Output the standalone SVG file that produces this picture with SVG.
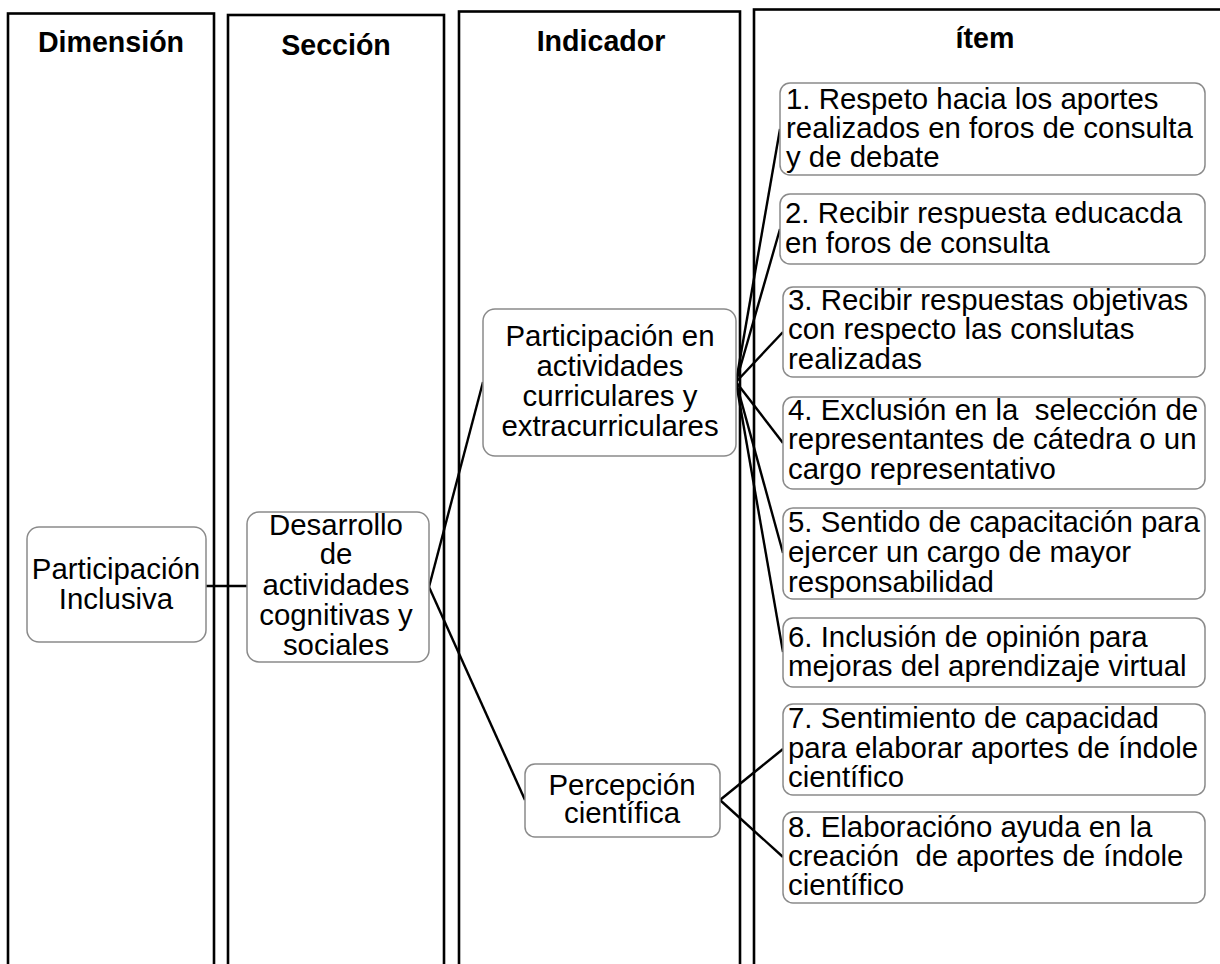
<svg xmlns="http://www.w3.org/2000/svg" width="1220" height="964" viewBox="0 0 1220 964">
<style>
.panel{fill:none;stroke:#000;stroke-width:2.6}
.hdr{font-family:"Liberation Sans",Arial,sans-serif;font-weight:bold;font-size:28.6px;text-anchor:middle;fill:#000}
.node rect{fill:#fff;stroke:#8a8a8a;stroke-width:1.5}
.node text{font-family:"Liberation Sans",Arial,sans-serif;font-size:29.4px;fill:#000;white-space:pre}
.c text{text-anchor:middle}
.conn line{stroke:#000;stroke-width:2.4}
</style>
<rect width="1220" height="964" fill="#fff"/>
<g id="panels">
<rect class="panel" x="8" y="13.5" width="206" height="970"/>
<rect class="panel" x="228" y="15" width="216" height="970"/>
<rect class="panel" x="459" y="11.5" width="281" height="970"/>
<rect class="panel" x="754" y="9.5" width="480" height="970"/>
<text class="hdr" x="111" y="52">Dimensión</text>
<text class="hdr" x="336" y="55">Sección</text>
<text class="hdr" x="601" y="51">Indicador</text>
<text class="hdr" x="985" y="48">ítem</text>
</g>
<g id="connectors" class="conn">
<line x1="206" y1="586" x2="247" y2="586"/>
<line x1="429" y1="587" x2="483" y2="382"/>
<line x1="429" y1="587" x2="525" y2="800"/>
<line x1="736" y1="382" x2="780" y2="129"/>
<line x1="736" y1="382" x2="780" y2="229"/>
<line x1="736" y1="382" x2="783" y2="332"/>
<line x1="736" y1="382" x2="783" y2="443"/>
<line x1="736" y1="382" x2="783" y2="553"/>
<line x1="736" y1="382" x2="783" y2="652"/>
<line x1="720" y1="800" x2="783" y2="749"/>
<line x1="720" y1="800" x2="783" y2="857"/>
</g>
<g id="dim" class="node c">
<rect x="27" y="527" width="179" height="115" rx="12"/>
<text x="116" y="579">Participación</text>
<text x="116" y="609">Inclusiva</text>
</g>
<g id="sec" class="node c">
<rect x="247" y="512" width="182" height="150" rx="12"/>
<text x="336" y="535">Desarrollo</text>
<text x="336" y="564">de</text>
<text x="336" y="595">actividades</text>
<text x="336" y="625">cognitivas y</text>
<text x="336" y="655">sociales</text>
</g>
<g id="ind1" class="node c">
<rect x="483" y="309" width="253" height="147" rx="12"/>
<text x="610" y="346">Participación en</text>
<text x="610" y="376">actividades</text>
<text x="610" y="406">curriculares y</text>
<text x="610" y="436">extracurriculares</text>
</g>
<g id="ind2" class="node c">
<rect x="525" y="764" width="195" height="73" rx="10"/>
<text x="622" y="795">Percepción</text>
<text x="622" y="823">científica</text>
</g>
<g id="item1" class="node">
<rect x="780" y="83" width="425" height="92" rx="10"/>
<text x="786" y="109">1. Respeto hacia los aportes</text>
<text x="786" y="138">realizados en foros de consulta</text>
<text x="786" y="167">y de debate</text>
</g>
<g id="item2" class="node">
<rect x="780" y="194" width="425" height="70" rx="10"/>
<text x="785" y="223">2. Recibir respuesta educacda</text>
<text x="785" y="253">en foros de consulta</text>
</g>
<g id="item3" class="node">
<rect x="783" y="287" width="422" height="90" rx="10"/>
<text x="788" y="310">3. Recibir respuestas objetivas</text>
<text x="788" y="339">con respecto las conslutas</text>
<text x="788" y="369">realizadas</text>
</g>
<g id="item4" class="node">
<rect x="783" y="397" width="422" height="92" rx="10"/>
<text x="788" y="420">4. Exclusión en la  selección de</text>
<text x="788" y="449">representantes de cátedra o un</text>
<text x="788" y="479">cargo representativo</text>
</g>
<g id="item5" class="node">
<rect x="783" y="508" width="422" height="91" rx="10"/>
<text x="788" y="532">5. Sentido de capacitación para</text>
<text x="788" y="562">ejercer un cargo de mayor</text>
<text x="788" y="592">responsabilidad</text>
</g>
<g id="item6" class="node">
<rect x="783" y="618" width="422" height="69" rx="10"/>
<text x="788" y="647">6. Inclusión de opinión para</text>
<text x="788" y="676">mejoras del aprendizaje virtual</text>
</g>
<g id="item7" class="node">
<rect x="783" y="704" width="422" height="91" rx="10"/>
<text x="788" y="728">7. Sentimiento de capacidad</text>
<text x="788" y="758">para elaborar aportes de índole</text>
<text x="788" y="787">científico</text>
</g>
<g id="item8" class="node">
<rect x="783" y="812" width="422" height="91" rx="10"/>
<text x="788" y="837">8. Elaboracióno ayuda en la</text>
<text x="788" y="866">creación  de aportes de índole</text>
<text x="788" y="895">científico</text>
</g>
</svg>
